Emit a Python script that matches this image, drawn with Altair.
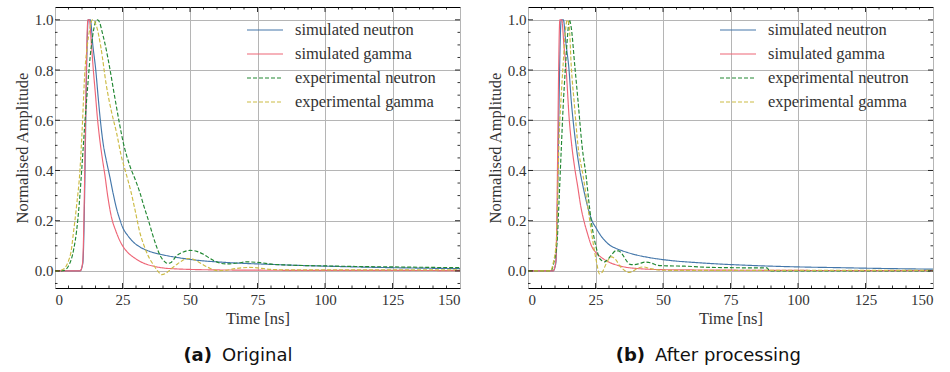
import altair as alt
import pandas as pd

# ---------------- data ----------------
SERIES = ["simulated neutron", "simulated gamma", "experimental neutron", "experimental gamma"]
COLORS = ["#4477AA", "#EE6677", "#228833", "#CCBB44"]
DASHES = [[1, 0], [1, 0], [4, 2], [4, 2]]

# Panel (a) Original
a_sn_t = [0, 9.3, 10.3, 12.3, 13.1, 14, 15.1, 16, 16.8, 17.8, 19, 20.2, 21.5, 23, 24, 25, 27, 29.5, 31.5, 35, 40, 45, 50, 55, 60, 70, 80, 90, 100, 115, 130, 150]
a_sn_v = [0, 0, 0.03, 1.0, 1.0, 0.9, 0.8, 0.69, 0.6, 0.51, 0.44, 0.38, 0.31, 0.24, 0.205, 0.175, 0.14, 0.11, 0.095, 0.078, 0.064, 0.054, 0.046, 0.04, 0.036, 0.03, 0.026, 0.022, 0.019, 0.015, 0.012, 0.009]

a_sg_t = [0, 9.3, 10.2, 12.2, 12.7, 13.5, 14.2, 15, 15.7, 16.5, 17.5, 18.5, 19.5, 21, 22.5, 24.5, 27, 29, 32, 36, 40, 45, 50, 60, 75, 100, 125, 150]
a_sg_v = [0, 0, 0.03, 1.0, 1.0, 0.9, 0.8, 0.7, 0.61, 0.53, 0.45, 0.38, 0.3, 0.21, 0.16, 0.11, 0.073, 0.055, 0.035, 0.02, 0.012, 0.008, 0.006, 0.004, 0.003, 0.002, 0.002, 0.001]

a_en_t = [0, 2, 3.5, 5, 6, 7, 8, 9, 10, 10.5, 11, 12, 13, 14, 15, 15.8, 16.5, 17.5, 19, 20.4, 22, 24, 25.3, 26.5, 28, 29.5, 31.5, 33, 34.5, 36, 37.5, 39, 40.5, 41.7, 43, 45, 47.5, 50, 52.5, 55, 58, 61.5, 64, 68, 71, 76, 80, 85, 90, 100, 110, 125, 140, 150]
a_en_v = [0, 0, 0.002, 0.02, 0.045, 0.09, 0.16, 0.27, 0.42, 0.5, 0.58, 0.72, 0.85, 0.94, 0.99, 1.0, 0.99, 0.95, 0.88, 0.8, 0.7, 0.58, 0.51, 0.46, 0.41, 0.37, 0.31, 0.255, 0.205, 0.15, 0.1, 0.06, 0.038, 0.03, 0.034, 0.06, 0.075, 0.082, 0.078, 0.066, 0.046, 0.03, 0.028, 0.032, 0.036, 0.033, 0.027, 0.024, 0.022, 0.02, 0.018, 0.016, 0.014, 0.013]

a_eg_t = [0, 2, 3.5, 5, 6, 6.8, 8, 9.3, 10, 11.1, 12, 13, 13.8, 14.5, 15.5, 17, 19, 21, 22.8, 24.5, 26, 27.8, 29.5, 31.5, 33, 34.5, 36.4, 38, 39.5, 41, 43, 45, 47, 49, 51, 53, 55, 57.5, 60, 63, 66, 69, 72, 75, 78, 82, 88, 100, 125, 150]
a_eg_v = [0, 0.002, 0.01, 0.04, 0.08, 0.15, 0.26, 0.41, 0.55, 0.8, 0.9, 0.97, 1.0, 0.995, 0.97, 0.89, 0.74, 0.63, 0.55, 0.46, 0.4, 0.33, 0.25, 0.15, 0.1, 0.06, 0.025, 0.0, -0.015, -0.01, 0.008, 0.025, 0.04, 0.049, 0.047, 0.037, 0.024, 0.01, 0.001, 0.002, 0.008, 0.012, 0.014, 0.012, 0.008, 0.005, 0.004, 0.004, 0.004, 0.004]

# Panel (b) After processing
b_sn_t = [0, 9.3, 10.3, 12.3, 13.1, 14, 15.2, 16, 16.7, 17.8, 19.2, 20.5, 22, 23.7, 25, 27, 30, 32.5, 35, 40, 45, 50, 55, 60, 70, 80, 90, 100, 115, 130, 150]
b_sn_v = [0, 0, 0.03, 1.0, 1.0, 0.91, 0.8, 0.68, 0.6, 0.5, 0.4, 0.33, 0.26, 0.2, 0.175, 0.14, 0.105, 0.09, 0.08, 0.064, 0.053, 0.045, 0.039, 0.035, 0.028, 0.023, 0.019, 0.016, 0.013, 0.01, 0.007]

b_sg_t = [0, 9.3, 10.3, 11.8, 12.5, 13.3, 14.2, 15.3, 16.2, 17.3, 18.5, 19.5, 20.7, 22, 23.5, 25, 27, 30, 34, 40, 50, 60, 75, 100, 150]
b_sg_v = [0, 0, 0.04, 1.0, 1.0, 0.9, 0.79, 0.6, 0.5, 0.41, 0.33, 0.26, 0.2, 0.15, 0.1, 0.075, 0.055, 0.035, 0.02, 0.01, 0.005, 0.004, 0.003, 0.002, 0.001]

b_en_t = [0, 8.5, 9.5, 10.8, 11.5, 12.3, 13, 13.8, 14.6, 15.3, 16, 17.3, 18.5, 20, 21.6, 22.5, 23.4, 24.7, 25.7, 26.5, 27.5, 28.4, 29.5, 31, 32.5, 33.5, 35, 36.5, 37.8, 39.5, 41.5, 43.3, 45.5, 48, 52, 58, 65, 75, 85, 88.5, 89.5, 100, 125, 150]
b_en_v = [0, 0, 0.03, 0.12, 0.28, 0.48, 0.65, 0.8, 0.93, 1.0, 0.97, 0.82, 0.68, 0.5, 0.37, 0.28, 0.2, 0.12, 0.075, 0.05, 0.04, 0.036, 0.045, 0.065, 0.08, 0.08, 0.065, 0.04, 0.026, 0.025, 0.03, 0.035, 0.032, 0.022, 0.02, 0.019, 0.015, 0.013, 0.012, 0.012, 0.0, 0.0, 0.0, 0.0]

b_eg_t = [0, 8.3, 9.3, 10.5, 11, 11.5, 12.2, 13, 13.8, 14.6, 15.3, 16, 17.2, 18.5, 20.4, 22.2, 24, 25.3, 26.5, 27.5, 29, 30.9, 32.5, 34, 35.8, 37, 38.5, 40.5, 42.7, 45, 48, 55, 75, 100, 125, 150]
b_eg_v = [0, 0, 0.03, 0.12, 0.3, 0.52, 0.68, 0.82, 0.95, 1.0, 0.97, 0.82, 0.66, 0.5, 0.38, 0.25, 0.12, 0.04, -0.012, -0.005, 0.03, 0.056, 0.045, 0.02, 0.002, -0.006, -0.003, 0.01, 0.016, 0.01, 0.004, 0.002, 0.002, 0.002, 0.002, 0.002]

X_MAJOR = [0, 25, 50, 75, 100, 125, 150]
X_MINOR = [5, 10, 15, 20, 30, 35, 40, 45, 55, 60, 65, 70, 80, 85, 90, 95, 105, 110, 115, 120, 130, 135, 140, 145]
Y_MAJOR = [0.0, 0.2, 0.4, 0.6, 0.8, 1.0]
Y_MINOR = [-0.05, 0.05, 0.1, 0.15, 0.25, 0.3, 0.35, 0.45, 0.5, 0.55, 0.65, 0.7, 0.75, 0.85, 0.9, 0.95]

# ---------------- styling ----------------
W, H = 405, 281
SERIF = "Liberation Serif"
SANS = "DejaVu Sans"
XDOM = [0, 150]
YDOM = [-0.068, 1.051]
TXT = "#333333"

XAXIS = alt.Axis(values=X_MAJOR, grid=True, gridColor="#b5b5b5", gridWidth=1,
                 domain=False, ticks=False, labelPadding=4, titlePadding=3, format="d",
                 labelFont=SERIF, labelFontSize=15, labelColor=TXT,
                 titleFont=SERIF, titleFontSize=16.5, titleFontWeight="normal", titleColor=TXT)
YAXIS = alt.Axis(values=Y_MAJOR, grid=True, gridColor="#b5b5b5", gridWidth=1,
                 domain=False, ticks=False, labelPadding=2, titlePadding=4, format=".1f",
                 labelFont=SERIF, labelFontSize=15, labelColor=TXT,
                 titleFont=SERIF, titleFontSize=16.5, titleFontWeight="normal", titleColor=TXT)


def long_df(parts):
    rows = []
    for name, ts, vs in parts:
        for t, v in zip(ts, vs):
            rows.append({"t": t, "v": v, "series": name, "order": SERIES.index(name)})
    return pd.DataFrame(rows)


def panel(parts, tag, caption, tag_right, cap_left):
    df = long_df(parts)
    xs = alt.Scale(domain=XDOM, nice=False, zero=False)
    ys = alt.Scale(domain=YDOM, nice=False, zero=False)

    def X(field="t"):
        return alt.X(field + ":Q", scale=xs, title="Time [ns]", axis=XAXIS)

    def Y(field="v"):
        return alt.Y(field + ":Q", scale=ys, title="Normalised Amplitude", axis=YAXIS)

    lines = alt.Chart(df).mark_line(strokeWidth=1.15, interpolate="monotone", clip=True).encode(
        x=X(), y=Y(),
        color=alt.Color("series:N", sort=SERIES,
                        scale=alt.Scale(domain=SERIES, range=COLORS), legend=None),
        strokeDash=alt.StrokeDash("series:N", sort=SERIES,
                                  scale=alt.Scale(domain=SERIES, range=DASHES), legend=None),
        order=alt.Order("order:Q"),
    )

    xmaj = pd.DataFrame({"t": X_MAJOR[1:-1]})
    xmin = pd.DataFrame({"t": X_MINOR})
    ymaj = pd.DataFrame({"v": Y_MAJOR})
    ymin = pd.DataFrame({"v": Y_MINOR})

    def xt(d, L):
        b = alt.Chart(d).mark_rule(color="black", strokeWidth=0.8).encode(
            x=X(), y=alt.value(H), y2=alt.value(H - L))
        t = alt.Chart(d).mark_rule(color="black", strokeWidth=0.8).encode(
            x=X(), y=alt.value(0), y2=alt.value(L))
        return [b, t]

    def yt(d, L):
        l = alt.Chart(d).mark_rule(color="black", strokeWidth=0.8).encode(
            y=Y(), x=alt.value(0), x2=alt.value(L))
        r = alt.Chart(d).mark_rule(color="black", strokeWidth=0.8).encode(
            y=Y(), x=alt.value(W), x2=alt.value(W - L))
        return [l, r]

    # legend drawn inside the plot (upper right)
    leg = []
    for i, s in enumerate(SERIES):
        ld = pd.DataFrame({"s": [s]})
        yy = 23 + 24 * i
        leg.append(alt.Chart(ld).mark_rule(color=COLORS[i], strokeDash=DASHES[i], strokeWidth=1.2).encode(
            x=alt.value(192), x2=alt.value(228), y=alt.value(yy)))
        leg.append(alt.Chart(ld).mark_text(font=SERIF, fontSize=16.5, color=TXT, align="left",
                                           baseline="middle").encode(
            text="s:N", x=alt.value(240), y=alt.value(yy)))

    capdf = pd.DataFrame({"a": [tag], "b": [caption]})
    cap_tag = alt.Chart(capdf).mark_text(font=SANS, fontSize=18, fontWeight="bold",
                                         align="right", baseline="middle", color="#111111").encode(
        text="a:N", x=alt.value(tag_right), y=alt.value(H + 68))
    cap_txt = alt.Chart(capdf).mark_text(font=SANS, fontSize=18, align="left",
                                         baseline="middle", color="#111111").encode(
        text="b:N", x=alt.value(cap_left), y=alt.value(H + 68))

    layers = [lines] + xt(xmaj, 5) + xt(xmin, 2.5) + yt(ymaj, 5) + yt(ymin, 2.5) + leg + [cap_tag, cap_txt]
    return alt.layer(*layers).properties(width=W, height=H)


pa = panel([(SERIES[0], a_sn_t, a_sn_v), (SERIES[1], a_sg_t, a_sg_v),
            (SERIES[2], a_en_t, a_en_v), (SERIES[3], a_eg_t, a_eg_v)],
           "(a)", "Original", 157, 167)
pb = panel([(SERIES[0], b_sn_t, b_sn_v), (SERIES[1], b_sg_t, b_sg_v),
            (SERIES[2], b_en_t, b_en_v), (SERIES[3], b_eg_t, b_eg_v)],
           "(b)", "After processing", 117, 127)

chart = alt.hconcat(pa, pb, spacing=25).resolve_scale(
    color="independent", strokeDash="independent", x="independent", y="independent"
).properties(
    padding={"left": 13, "top": 6, "right": 0, "bottom": 0}, background="white"
).configure_view(stroke="black", strokeWidth=1).configure_axis(
    labelFont=SERIF, labelFontSize=15, labelColor=TXT,
    titleFont=SERIF, titleFontSize=16.5, titleFontWeight="normal", titleColor=TXT
)

chart.save("out.html", embed_options={"renderer": "svg", "actions": False})
